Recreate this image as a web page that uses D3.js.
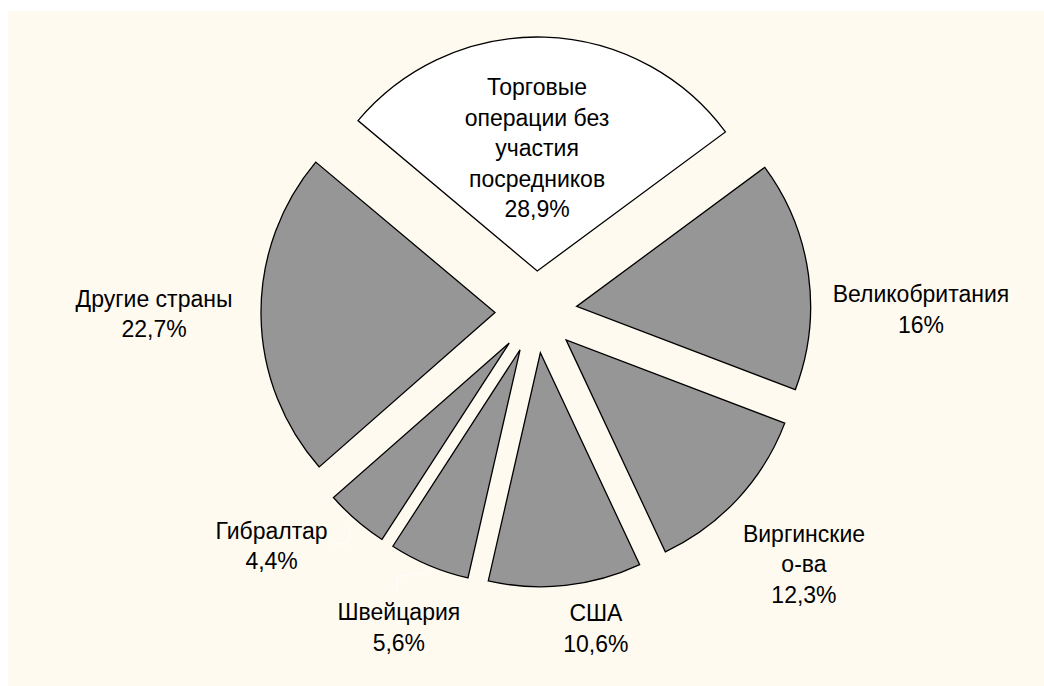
<!DOCTYPE html>
<html>
<head>
<meta charset="utf-8">
<script src="https://cdn.jsdelivr.net/npm/d3@7"></script>
<style>
    body { margin: 0; background: #ffffff; }
    svg { display: block; }
    text { font-family: Arial, "Liberation Sans", sans-serif; font-size: 23px; fill: #000; }
</style>
</head>
<body>
<div class="container"></div>
<script>
// chart data: share of trade operations by intermediary country
const categories = [
    ["Торговые", "операции без", "участия", "посредников"],
    ["Великобритания"],
    ["Виргинские", "о-ва"],
    ["США"],
    ["Швейцария"],
    ["Гибралтар"],
    ["Другие страны"]
];
const values = [28.9, 16, 12.3, 10.6, 5.6, 4.4, 22.7];

// slice fills (first slice is the white one)
const sliceFill = ["#ffffff", "#969696", "#969696", "#969696", "#969696", "#969696", "#969696"];

// label placement around the centre: distance and small turn (degrees) from the slice middle
const labelRadius = [164, 385, 368, 322, 344, 353, 382];
const labelTurn = [-1.4, 7.4, 0.4, -4.6, 0.6, 7.7, 0.4];

// frame shared by the drawing
const width = 1044,
        height = 686;
const cx = 536,
        cy = 312;
const radius = 234,
        explode = 41;
const lineHeight = 30.6;

const svg = d3.select(".container")
    .append("svg")
    .attr("width", width)
    .attr("height", height);

// cream plot area
svg.append("rect")
    .attr("x", 8)
    .attr("y", 11)
    .attr("width", width - 8)
    .attr("height", height - 11)
    .attr("fill", "#fffaf0");

const startAngle = -50 * Math.PI / 180;

const pie = d3.pie()
    .sort(null)
    .value(d => d)
    .startAngle(startAngle)
    .endAngle(startAngle + 2 * Math.PI);

const arc = d3.arc()
    .innerRadius(0)
    .outerRadius(radius);

const arcs = pie(values);
const mid = a => (a.startAngle + a.endAngle) / 2;

const canvas = svg.append("g")
    .attr("transform", `translate(${cx}, ${cy})`);

// exploded slices
canvas.selectAll("path.slice")
    .data(arcs)
    .enter()
    .append("path")
    .attr("class", "slice")
    .attr("transform", d => `translate(${explode * Math.sin(mid(d))}, ${-explode * Math.cos(mid(d))})`)
    .attr("d", arc)
    .attr("fill", (d, i) => sliceFill[i])
    .attr("stroke", "#000")
    .attr("stroke-width", 1.3)
    .attr("stroke-linejoin", "miter");

// label centres
const labelPoints = arcs.map((d, i) => {
    const a = mid(d) + labelTurn[i] * Math.PI / 180;
    return [labelRadius[i] * Math.sin(a), -labelRadius[i] * Math.cos(a)];
});

const fmt = v => String(v).replace(".", ",") + "%";

const labels = canvas.selectAll("text.label")
    .data(arcs)
    .enter()
    .append("text")
    .attr("class", "label")
    .attr("text-anchor", "middle");

labels.each(function(d, i) {
    const lines = categories[i].concat([fmt(values[i])]);
    const [lx, ly] = labelPoints[i];
    const top = ly - (lines.length - 1) * lineHeight / 2;
    d3.select(this)
        .selectAll("tspan")
        .data(lines)
        .enter()
        .append("tspan")
        .attr("x", lx)
        .attr("y", (t, j) => top + j * lineHeight + 8.2)
        .text(t => t);
});

// faint leader lines for the two smallest labels
const leaderTargets = [4, 5];
leaderTargets.forEach(i => {
    const d = arcs[i];
    const a = mid(d);
    const end = [(radius + explode + 8) * Math.sin(a), -(radius + explode + 8) * Math.cos(a)];
    const [lx, ly] = labelPoints[i];
    const n = categories[i].length + 1;
    let pts;
    if (Math.abs(end[0] - lx) > Math.abs(end[1] - ly)) {
        const sx = lx + 60;
        const sy = ly - 2;
        pts = [[sx, sy], [sx + 15, sy], end];
    } else {
        const sx = lx - 2;
        const sy = ly - n * lineHeight / 2 - 7;
        pts = [[sx, sy], [sx, sy - 13], end];
    }
    canvas.append("path")
        .attr("d", d3.line()(pts))
        .attr("fill", "none")
        .attr("stroke", "#ffffff")
        .attr("stroke-width", 1);
});
</script>
</body>
</html>
